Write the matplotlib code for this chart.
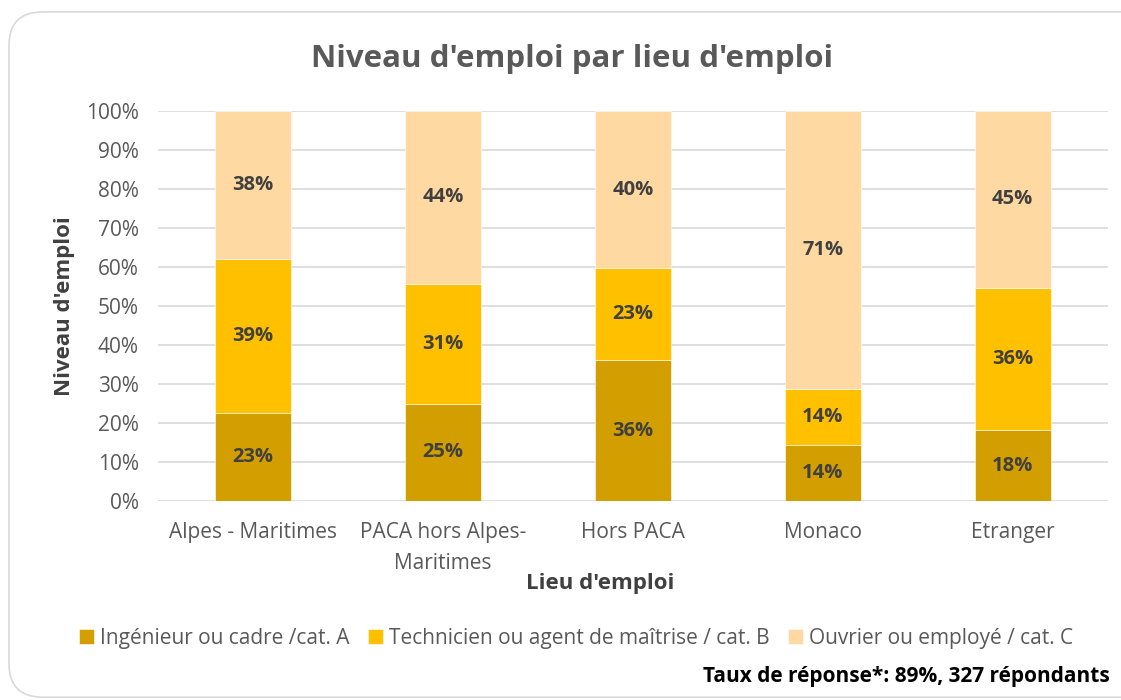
import matplotlib.pyplot as plt
from matplotlib.patches import FancyBboxPatch
import numpy as np

plt.rcParams['font.family'] = ['Open Sans', 'DejaVu Sans']

lieux = ['Alpes - Maritimes', 'PACA hors Alpes-\nMaritimes', 'Hors PACA', 'Monaco', 'Etranger']
cat_a = [22.7, 25.0, 36.2, 14.3, 18.2]
cat_b = [39.2, 30.6, 23.4, 14.3, 36.4]
cat_c = [38.1, 44.4, 40.4, 71.4, 45.4]
series_names = ['Ingénieur ou cadre /cat. A',
                'Technicien ou agent de maîtrise / cat. B',
                'Ouvrier ou employé / cat. C']
colors = ['#D39F00', '#FFC000', '#FFD9A1']

fig = plt.figure(figsize=(11.21, 7), dpi=100)

# rounded frame around the chart
frame = FancyBboxPatch((0.008, 0.004), 1.2, 0.979, boxstyle='round,pad=0,rounding_size=0.03',
                       transform=fig.transFigure, facecolor='white', edgecolor='#D9D9D9',
                       linewidth=1.2, mutation_aspect=1.6, zorder=-5)
fig.patches.append(frame)

ax = fig.add_axes([0.141, 0.284, 0.847, 0.558])
ax.set_facecolor('none')
ax.set_zorder(2)

x = np.arange(len(lieux))
bottom = np.zeros(len(lieux))
for vals, col, name in zip([cat_a, cat_b, cat_c], colors, series_names):
    vals = np.array(vals)
    ax.bar(x, vals, 0.4, bottom=bottom, color=col, label=name, zorder=2,
           edgecolor='white', linewidth=0.4)
    for xi, b, v in zip(x, bottom, vals):
        ax.text(xi, b + v / 2, f'{round(v):.0f}%', ha='center', va='center',
                fontsize=14.5, fontweight='bold', color='#404040', zorder=3)
    bottom += vals

ax.set_xlim(-0.5, len(lieux) - 0.5)
ax.set_ylim(0, 100)
ax.set_yticks(np.arange(0, 101, 10))
ax.set_yticklabels([f'{t}%' for t in range(0, 101, 10)])
ax.set_xticks(x)
ax.set_xticklabels(lieux, linespacing=1.6)
ax.yaxis.grid(True, color='#D9D9D9', linewidth=1.2, zorder=0)
ax.set_axisbelow(True)
for s in ax.spines.values():
    s.set_visible(False)
ax.tick_params(length=0, labelsize=15, labelcolor='#595959')
ax.tick_params(axis='x', pad=15)
ax.tick_params(axis='y', pad=14)

ax.set_ylabel("Niveau d'emploi", fontsize=16, fontweight='bold', color='#404040', labelpad=8)

fig.text(0.535, 0.167, "Lieu d'emploi", ha='center', va='center',
         fontsize=16, fontweight='bold', color='#404040')
fig.text(0.51, 0.916, "Niveau d'emploi par lieu d'emploi", ha='center', va='center',
         fontsize=22.5, fontweight='bold', color='#595959')

fig.legend(loc='center', bbox_to_anchor=(0.514, 0.088), ncol=3, frameon=False,
           fontsize=15, labelcolor='#595959', handlelength=0.7, handleheight=0.7,
           handletextpad=0.3, columnspacing=0.9)

fig.text(0.99, 0.034, 'Taux de réponse*: 89%, 327 répondants', ha='right', va='center',
         fontsize=15, fontweight='bold', color='black')

fig.savefig('out.png', dpi=100)
